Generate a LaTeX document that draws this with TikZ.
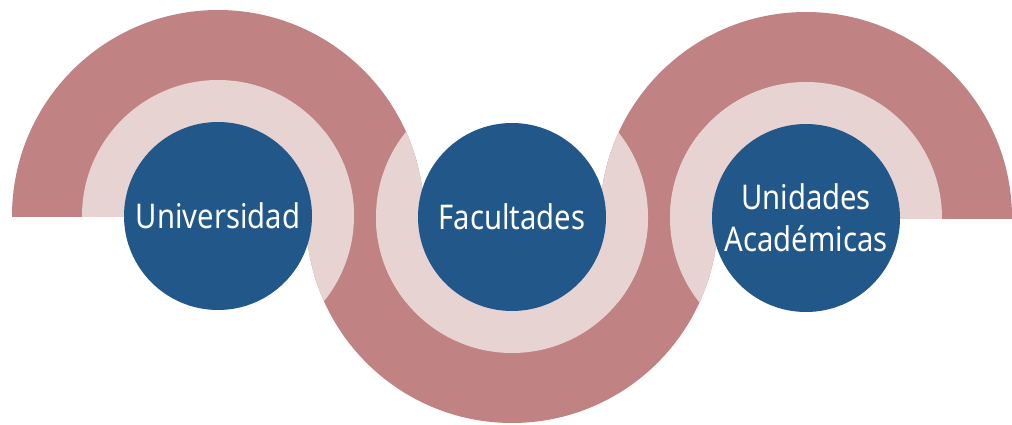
\documentclass[tikz,border=0pt]{standalone}
\usepackage{fontspec}
\setmainfont{Noto Sans}[FakeStretch=0.86]
\definecolor{ringdark}{HTML}{C08282}
\definecolor{ringlight}{HTML}{E8D3D3}
\definecolor{unitblue}{HTML}{22578A}

\begin{document}
\begin{tikzpicture}[x=1pt,y=-1pt]
\useasboundingbox (0,0) rectangle (1012,425);

\coordinate (cu) at (218,216);
\coordinate (cf) at (512,217);
\coordinate (ca) at (806,218);

% dark halves
\begin{scope}
    \clip (0,0) rectangle (1012,216);
    \fill[ringdark] (cu) circle (206pt);
\end{scope}
\begin{scope}
    \clip (0,217) rectangle (1012,425);
    \fill[ringdark] (cf) circle (206pt);
\end{scope}
\begin{scope}
    \clip (0,0) rectangle (1012,218);
    \fill[ringdark] (ca) circle (206pt);
\end{scope}

% light halves
\begin{scope}
    \clip (0,0) rectangle (1012,216);
    \fill[ringlight] (cu) circle (136pt);
\end{scope}
\begin{scope}
    \clip (0,217) rectangle (1012,425);
    \fill[ringlight] (cf) circle (136pt);
\end{scope}
\begin{scope}
    \clip (0,0) rectangle (1012,218);
    \fill[ringlight] (ca) circle (136pt);
\end{scope}

% light bands where two rings cross
\begin{scope}
    \clip (cf) circle (206pt);
    \fill[ringlight] (cu) circle (136pt);
    \fill[ringlight] (ca) circle (136pt);
\end{scope}
\begin{scope}
    \clip (cu) circle (206pt);
    \fill[ringlight] (cf) circle (136pt);
\end{scope}
\begin{scope}
    \clip (ca) circle (206pt);
    \fill[ringlight] (cf) circle (136pt);
\end{scope}

\begin{scope}[every node/.style={circle,fill=unitblue,text=white,inner sep=0pt,
    minimum size=188pt,align=center,font=\fontsize{34}{42}\selectfont}]
    \node (uni) at (cu) {Universidad};
    \node (fac) at (cf) {Facultades};
    \node (acad) at (ca) {Unidades\\Académicas};
\end{scope}

\end{tikzpicture}
\end{document}
